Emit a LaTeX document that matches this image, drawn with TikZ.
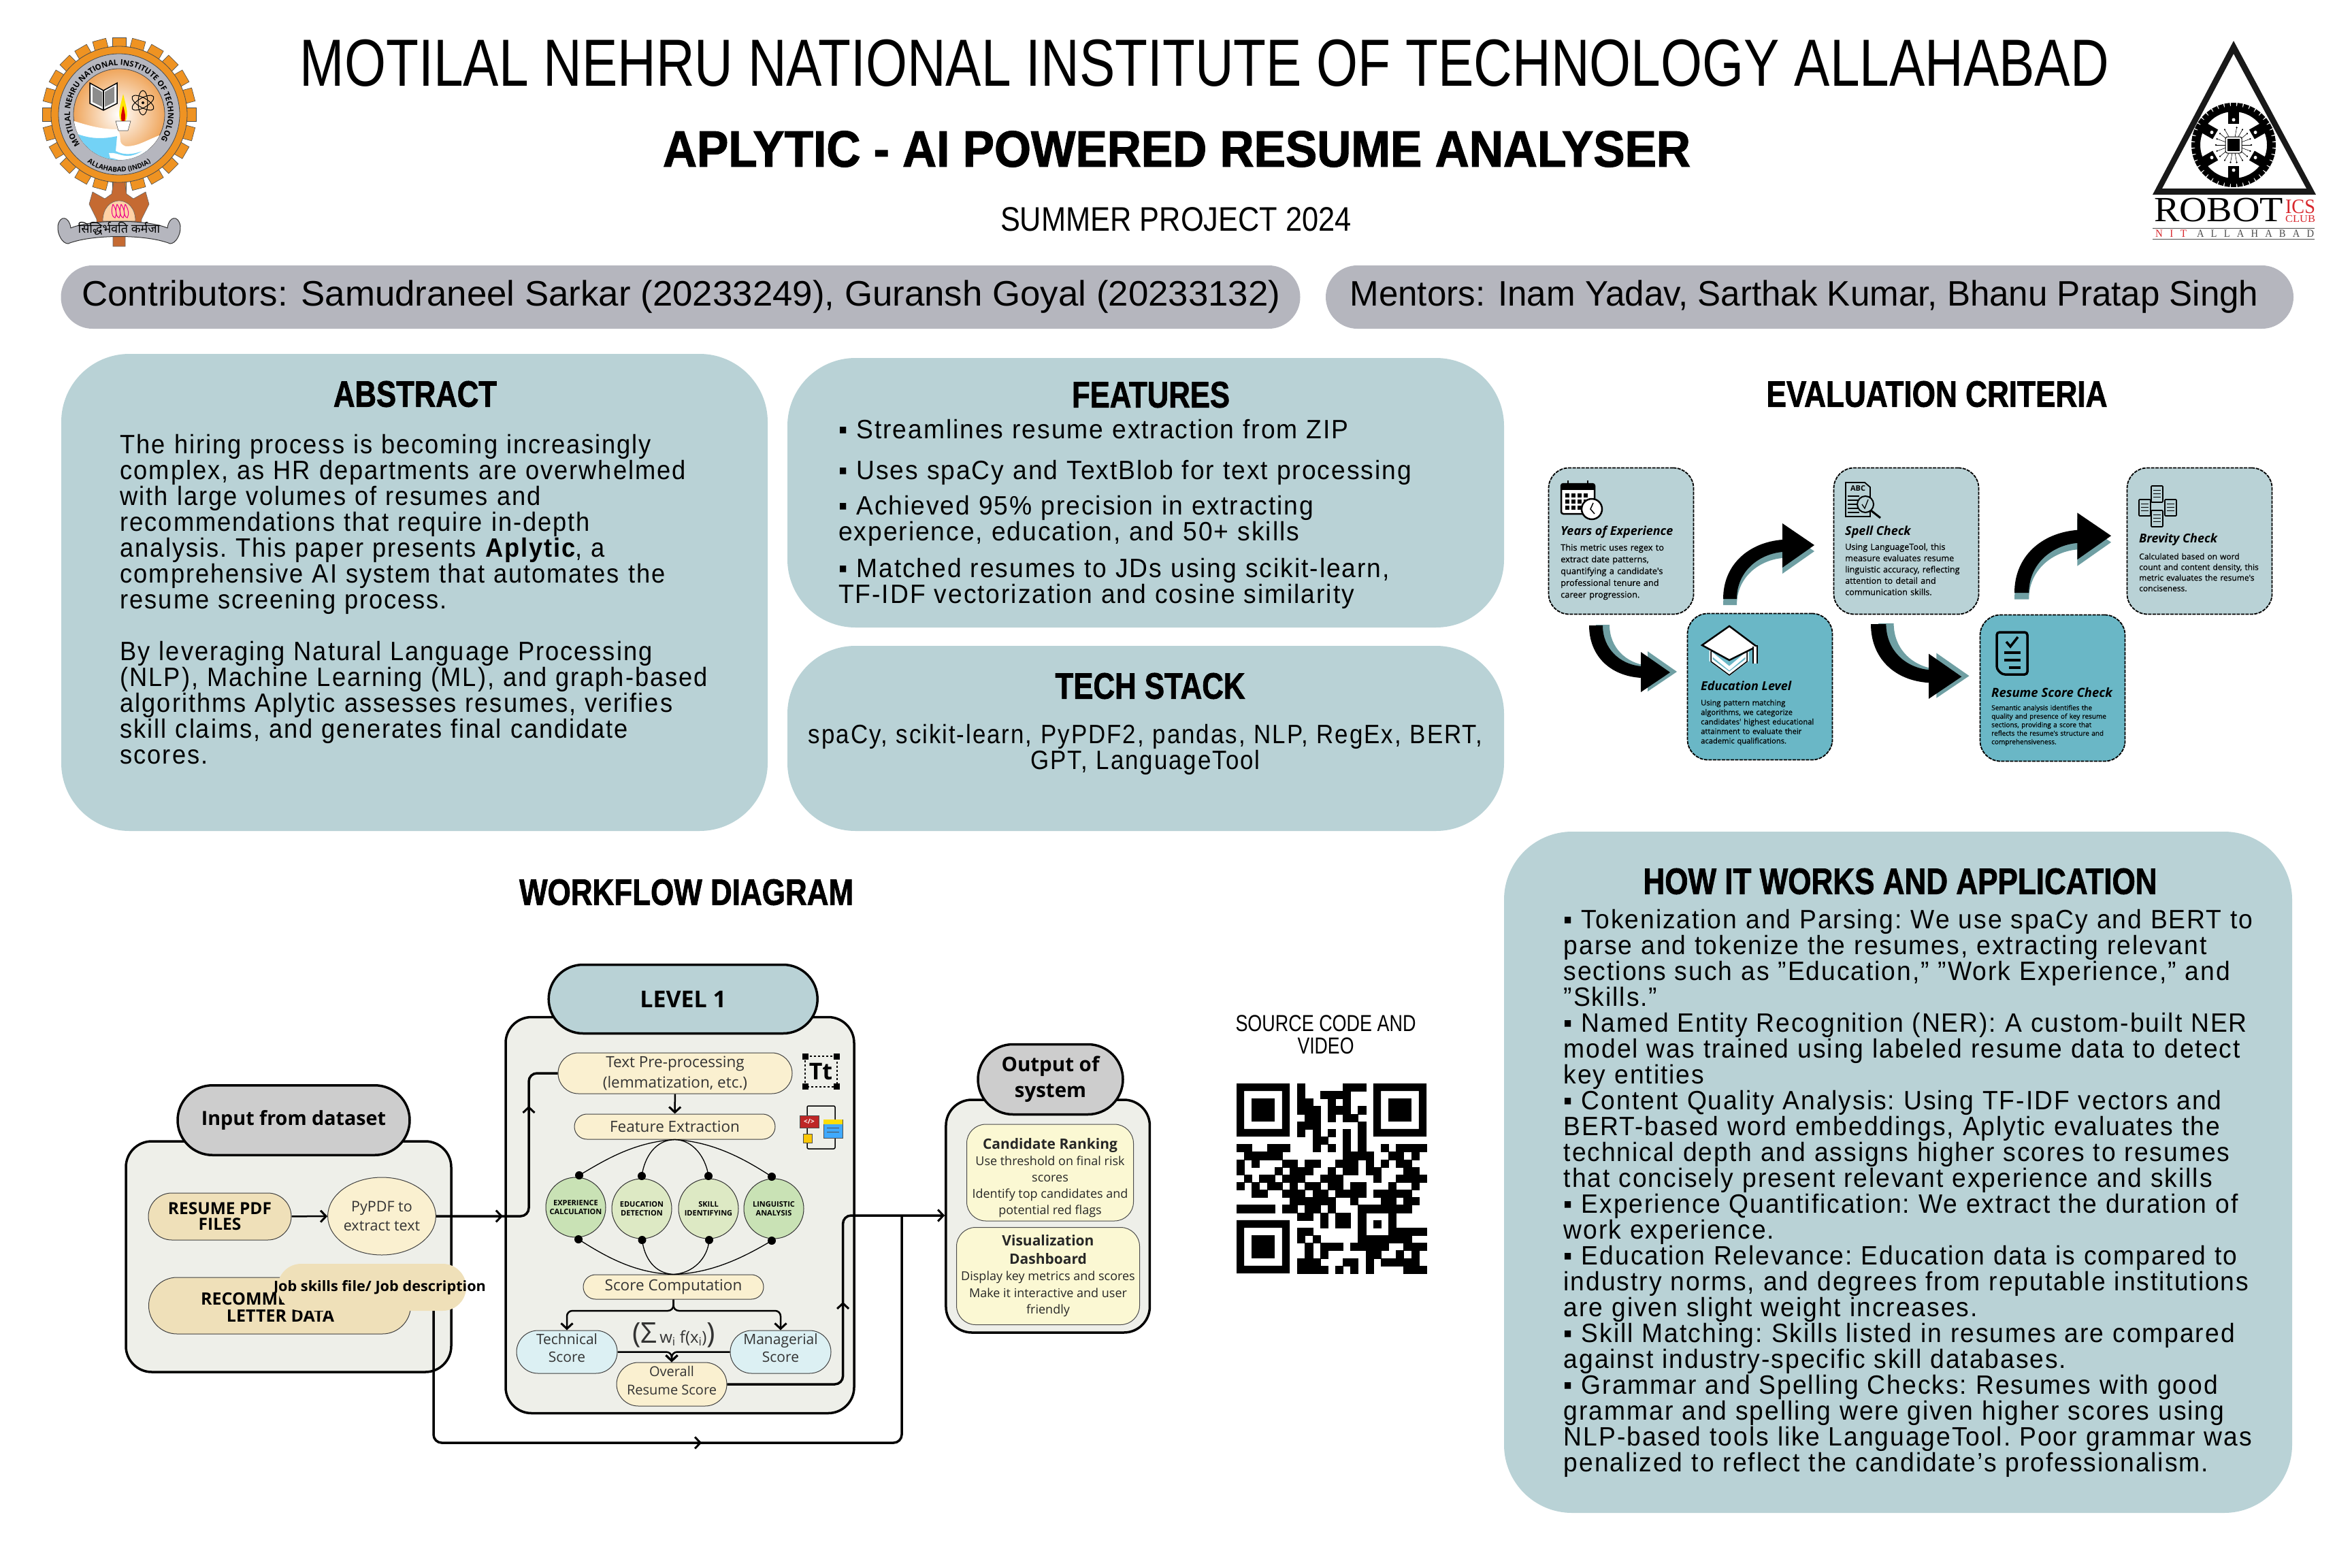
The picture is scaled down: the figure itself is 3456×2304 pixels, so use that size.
\documentclass[tikz,border=0pt]{standalone}
\usepackage{fontspec}
\usepackage{graphicx}
\usetikzlibrary{arrows.meta,shapes.misc,shapes.geometric,decorations.markings,decorations.text}
\newfontfamily\titlefont{Liberation Sans}
\newfontfamily\heavyfont[BoldFeatures={FakeBold=1.6}]{Liberation Sans}
\newfontfamily\bodyfont[FakeStretch=.93,LetterSpace=5]{Liberation Sans}
\newfontfamily\bodywide[FakeStretch=.955,LetterSpace=5]{Liberation Sans}
\newfontfamily\bodyslim[FakeStretch=.895,LetterSpace=5]{Liberation Sans}
\newfontfamily\wffont{Open Sans}
\newfontfamily\critfont[FakeBold=.5]{Open Sans}
\newfontfamily\serifmark{Liberation Serif}
\newfontfamily\hindifont[Script=Devanagari]{Noto Sans}
\newcommand{\fitw}[2]{\resizebox{#1}{\height}{#2}}
\newcommand{\wfs}[2]{\wffont\fontsize{#1}{#2}\selectfont\lineskiplimit=-100pt }
\newcommand{\crs}[2]{\critfont\fontsize{#1}{#2}\selectfont\lineskiplimit=-100pt }
\newcommand{\bds}[1]{#1\fontsize{39}{38}\selectfont\lineskiplimit=-100pt\frenchspacing }
\definecolor{panelblue}{HTML}{B9D2D6}
\definecolor{greybar}{HTML}{B5B6BE}
\definecolor{greycap}{HTML}{CDCDCD}
\definecolor{beige}{HTML}{EFE0B9}
\definecolor{cream}{HTML}{FAF0D0}
\definecolor{paleback}{HTML}{EEEFE9}
\definecolor{greenone}{HTML}{C9E2B5}
\definecolor{greentwo}{HTML}{DDE9C4}
\definecolor{iceblue}{HTML}{DCF0F3}
\definecolor{lemon}{HTML}{FBF8D3}
\definecolor{tealbox}{HTML}{6AB7C6}
\definecolor{arrowshade}{HTML}{6F9FA3}
\definecolor{nitorange}{HTML}{EF9322}
\definecolor{nitbrown}{HTML}{C56A32}
\definecolor{robotred}{HTML}{D8272D}
\tikzset{
  panel/.style={rectangle,fill=panelblue,rounded corners=100pt,inner sep=0pt},
  greybarbox/.style={rounded rectangle,fill=greybar,inner sep=0pt},
  headtext/.style={inner sep=0pt,font=\heavyfont\fontsize{54}{54}\selectfont\bfseries},
  bodytext/.style={anchor=base west,inner sep=0pt,align=left,font=\bds{\bodyfont}},
  backbox/.style={rectangle,draw=black,line width=3.5pt,fill=paleback,rounded corners=38pt,inner sep=0pt},
  pill/.style={rounded rectangle,draw=black!75,line width=1pt,inner sep=0pt,align=center},
  softpill/.style={pill,text=black!80},
  capsule/.style={rounded rectangle,draw=black,line width=3.5pt,inner sep=0pt,align=center},
  critbox/.style={rectangle,draw=black,dashed,dash pattern=on 5pt off 1.5pt,line width=1.8pt,rounded corners=30pt,inner sep=0pt,minimum width=213pt,minimum height=215pt},
  crittitle/.style={anchor=base west,inner sep=0pt,font=\wfs{18}{20}\bfseries\itshape},
  crittext/.style={anchor=base west,inner sep=0pt,align=left,text width=200pt},
  flow/.style={draw=black,line width=3.5pt,rounded corners=12pt},
  thinflow/.style={draw=black,line width=2.5pt,rounded corners=8pt},
  midtip/.style={postaction={decorate,decoration={markings,mark=at position #1 with {\arrow{Straight Barb[length=8pt,width=17pt,line width=3pt]}}}}},
  endtip/.style={-{Straight Barb[length=8pt,width=17pt,line width=3pt]}},
  dotmark/.style={circle,fill=black,inner sep=0pt,minimum size=12pt},
  scorecircle/.style={circle,draw=black!80,line width=1pt,minimum size=88pt,inner sep=0pt,align=center,font=\wfs{11}{13}\bfseries},
  linkcurve/.style={draw=black,line width=1.3pt},
  bentup/.pic={
    \fill[arrowshade,shift={(0,9)}] (0,0) .. controls (0,-51) and (38,-83) .. (87,-87) -- (87,-111) -- (134,-79) -- (87,-46) -- (87,-69) .. controls (53,-66) and (20,-41) .. (20,0) -- cycle;
    \fill[black] (0,0) .. controls (0,-51) and (38,-83) .. (87,-87) -- (87,-111) -- (134,-79) -- (87,-46) -- (87,-69) .. controls (53,-66) and (20,-41) .. (20,0) -- cycle;
  },
  bentdown/.pic={
    \fill[arrowshade,shift={(10,-1)}] (0,0) .. controls (0,44) and (30,74) .. (76,77) -- (76,98) -- (119,69) -- (76,39) -- (76,60) .. controls (45,57) and (20,34) .. (20,0) -- cycle;
    \fill[black] (0,0) .. controls (0,44) and (30,74) .. (76,77) -- (76,98) -- (119,69) -- (76,39) -- (76,60) .. controls (45,57) and (20,34) .. (20,0) -- cycle;
  }
}
\begin{document}
\begin{tikzpicture}[x=1pt,y=-1pt]
  \useasboundingbox (0,0) rectangle (3456,2304);
  \fill[white] (0,0) rectangle (3456,2304);

  \foreach \a in {0,15,...,345} {
    \fill[nitorange,draw=black!70,line width=.6pt,rotate around={\a:(175,168)}] (165,55) rectangle (185,76);
  }
  \fill[nitbrown,draw=black!60,line width=.6pt] (168,262) -- (182,262) -- (186,285) -- (196,292) -- (214,282) -- (219,300) -- (208,322) -- (207,345) -- (184,345) -- (184,362) -- (166,362) -- (166,345) -- (143,345) -- (142,322) -- (131,300) -- (136,282) -- (154,292) -- (164,285) -- cycle;
  \fill[orange!35!white,draw=black!60,line width=.6pt] (151,325) .. controls (151,285) and (199,285) .. (199,325) -- cycle;
  \fill[nitorange,draw=black!70,line width=.8pt] (175,168) circle[radius=100pt];
  \fill[greybar,draw=black!70,line width=.8pt] (175,168) circle[radius=89pt];
  \shade[inner color=white,outer color=orange!65!brown!70,draw=black!70,line width=.8pt] (175,168) circle[radius=67pt];
  \begin{scope}
    \clip (175,168) circle[radius=67pt];
    \fill[white] (100,175) .. controls (130,185) and (150,190) .. (172,190) .. controls (182,200) and (170,210) .. (185,215) .. controls (205,215) and (215,205) .. (245,195) -- (245,250) -- (100,250) -- cycle;
    \fill[cyan!55] (100,190) .. controls (125,205) and (150,205) .. (172,200) -- (170,222) .. controls (195,235) and (215,215) .. (240,215) -- (240,250) -- (100,250) -- cycle;
    \fill[white] (160,225) .. controls (175,222) and (185,240) .. (215,218) -- (225,222) .. controls (190,250) and (175,232) .. (162,232) -- cycle;
  \end{scope}
  \fill[white,draw=black,line width=1.5pt] (132,122) -- (152,133) -- (172,122) -- (172,152) -- (152,162) -- (132,152) -- cycle;
  \draw[black,line width=1.5pt] (152,133) -- (152,162);
  \fill[black!45] (136,127) -- (150,135) -- (150,157) -- (136,150) -- cycle (168,127) -- (154,135) -- (154,157) -- (168,150) -- cycle;
  \foreach \a in {0,60,120} {
    \draw[black,line width=1pt,rotate around={\a:(210,151)}] (210,151) ellipse[x radius=7pt,y radius=18pt];
  }
  \fill[black] (210,151) circle[radius=2pt];
  \fill[yellow!90!orange] (181,138) .. controls (186,160) and (191,170) .. (181,184) .. controls (171,170) and (176,160) .. (181,138) -- cycle;
  \fill[red!85!black] (181,155) .. controls (184,168) and (186,174) .. (181,182) .. controls (176,174) and (178,168) .. (181,155) -- cycle;
  \fill[white,draw=black!70,line width=.6pt] (170,178) -- (192,178) -- (188,192) -- (174,192) -- cycle;
  \path[decorate,decoration={text along path,text align=center,text={|\wffont\fontsize{11.5}{12}\selectfont\bfseries|MOTILAL NEHRU NATIONAL INSTITUTE OF TECHNOLOGY}}] plot[domain=214:-34,samples=60] ([shift={(175,168)}]\x:72pt);
  \path[decorate,decoration={text along path,text align=center,text={|\wffont\fontsize{10}{11}\selectfont\bfseries|ALLAHABAD (INDIA)}}] plot[domain=232:308,samples=30] ([shift={(175,168)}]\x:85pt);
  \foreach \l in {166,172,178,184} {
    \draw[magenta,line width=1pt] (\l,300) .. controls (\l-4,312) and (\l,320) .. (\l+3,320) .. controls (\l+6,315) and (\l+5,308) .. (\l,300);
  }
  \fill[greybar,draw=black!80,line width=1pt] (104,335) .. controls (135,322) and (215,322) .. (246,335) .. controls (248,318) and (262,315) .. (265,332) .. controls (266,345) and (258,358) .. (250,358) .. controls (215,344) and (135,344) .. (100,358) .. controls (92,358) and (84,345) .. (85,332) .. controls (88,315) and (102,318) .. (104,335) -- cycle;
  \draw (175,336) node[inner sep=0pt,font=\hindifont\fontsize{18}{18}\selectfont] (nitmotto){सिद्धिर्भवति कर्मजा};

  \fill[black!90,even odd rule] (3282,60) -- (3403,286) -- (3163,286) -- cycle (3282,79) -- (3389,277) -- (3177,277) -- cycle;
  \foreach \a in {0,9,...,351} {
    \fill[black,rotate around={\a:(3282,213)}] (3278,151) rectangle (3286,160);
  }
  \fill[black,even odd rule] (3282,213) circle[radius=57pt] (3282,213) circle[radius=49pt];
  \foreach \a in {0,60,...,300} {
    \fill[black,rotate around={\a:(3282,213)}] (3274,160) rectangle (3290,182);
    \fill[white,rotate around={\a:(3282,213)}] (3282,176) circle[radius=2.5pt];
  }
  \foreach \a in {30,50,...,350} {
    \draw[black,line width=.6pt,rotate around={\a:(3282,213)}] (3282,213) -- (3282,187);
    \fill[black,rotate around={\a:(3282,213)}] (3282,187) circle[radius=1.3pt];
  }
  \fill[white,draw=black,line width=1pt,rounded corners=3pt] (3270,201) rectangle (3294,225);
  \fill[black] (3273,204) rectangle (3291,222);
  \draw (3260,309) node[inner sep=0pt,font=\serifmark\fontsize{52}{52}\selectfont] (robotword){\fitw{190pt}{ROBOT}}
        (3380,304) node[inner sep=0pt,text=robotred,font=\serifmark\fontsize{30}{30}\selectfont] (icsword){\fitw{44pt}{ICS}}
        (3380,322) node[inner sep=0pt,text=robotred,font=\serifmark\fontsize{15}{15}\selectfont] (clubword){\fitw{44pt}{CLUB}}
        (3190,343) node[inner sep=0pt,text=robotred,font=\serifmark\fontsize{16}{16}\selectfont] (nitword){\fitw{46pt}{\addfontfeature{LetterSpace=70}NIT}}
        (3314,343) node[inner sep=0pt,text=black!70,font=\serifmark\fontsize{16}{16}\selectfont] (allahabadword){\fitw{172pt}{\addfontfeature{LetterSpace=70}ALLAHABAD}};
  \draw[black!70,line width=1pt] (3163,335) -- (3401,335) (3163,351) -- (3401,351);

  \draw (1770,93) node[inner sep=0pt,font=\titlefont\fontsize{98}{98}\selectfont] (title){\fitw{2658pt}{MOTILAL NEHRU NATIONAL INSTITUTE OF TECHNOLOGY ALLAHABAD}}
        (1729,219) node[inner sep=0pt,font=\heavyfont\fontsize{75}{75}\selectfont\bfseries] (subtitle){\fitw{1510pt}{APLYTIC - AI POWERED RESUME ANALYSER}}
        (1728,322) node[inner sep=0pt,font=\titlefont\fontsize{50}{50}\selectfont] (project){\fitw{516pt}{SUMMER PROJECT 2024}}
        (1000,436.5) node[greybarbox,minimum width=1821pt,minimum height=93pt] (contributors){}
        (2659,436.5) node[greybarbox,minimum width=1422pt,minimum height=93pt] (mentors){}
        (1001,436) node[inner sep=0pt,font=\titlefont\fontsize{52}{52}\selectfont] (contributorstext){\fitw{1761pt}{Contributors: Samudraneel Sarkar (20233249), Guransh Goyal (20233132)}}
        (2651,436) node[inner sep=0pt,font=\titlefont\fontsize{52}{52}\selectfont] (mentorstext){\fitw{1335pt}{Mentors: Inam Yadav, Sarthak Kumar, Bhanu Pratap Singh}};

  \draw (609,870.5) node[panel,minimum width=1038pt,minimum height=701pt] (abstract){}
        (1683.5,724) node[panel,minimum width=1053pt,minimum height=396pt] (features){}
        (1683.5,1085) node[panel,minimum width=1053pt,minimum height=272pt] (techstack){}
        (2789,1722.5) node[panel,minimum width=1158pt,minimum height=1001pt] (howitworks){};
  \draw (610,579) node[headtext] (abstracthead){\fitw{240pt}{ABSTRACT}}
        (1691,580) node[headtext] (featureshead){\fitw{232pt}{FEATURES}}
        (1690,1008) node[headtext] (techstackhead){\fitw{279pt}{TECH STACK}}
        (2846,579) node[headtext] (criteriahead){\fitw{501pt}{EVALUATION CRITERIA}}
        (2792,1295) node[headtext] (howhead){\fitw{755pt}{HOW IT WORKS AND APPLICATION}}
        (1008.6,1311) node[headtext] (workflowhead){\fitw{491pt}{WORKFLOW DIAGRAM}};

  \draw (176.5,666) node[bodytext,text width=940pt] (abstractone){The hiring process is becoming increasingly\\complex, as HR departments are overwhelmed\\with large volumes of resumes and\\recommendations that require in-depth\\analysis. This paper presents {\bfseries Aplytic}, a\\comprehensive AI system that automates the\\resume screening process.}
        (176.5,970) node[bodytext,text width=940pt] (abstracttwo){By leveraging Natural Language Processing\\(NLP), Machine Learning (ML), and graph-based\\algorithms Aplytic assesses resumes, verifies\\skill claims, and generates final candidate\\scores.}
        (1232,644) node[bodytext,text width=950pt,font=\bds{\bodywide}] (featureone){▪ Streamlines resume extraction from ZIP}
        (1232,704) node[bodytext,text width=950pt,font=\bds{\bodywide}] (featuretwo){▪ Uses spaCy and TextBlob for text processing}
        (1232,756) node[bodytext,text width=950pt,font=\bds{\bodywide}] (featurethree){▪ Achieved 95\% precision in extracting\\experience, education, and 50+ skills}
        (1232,848) node[bodytext,text width=950pt,font=\bds{\bodywide}] (featurefour){▪ Matched resumes to JDs using scikit-learn,\\TF-IDF vectorization and cosine similarity}
        (1683,1092) node[bodytext,anchor=base,align=center,text width=1050pt,font=\bds{\bodyslim}] (techlist){spaCy, scikit-learn, PyPDF2, pandas, NLP, RegEx, BERT,\\GPT, LanguageTool}
        (2297.5,1364) node[bodytext,text width=1060pt,font=\bds{\bodywide}] (howlist){▪ Tokenization and Parsing: We use spaCy and BERT to\\parse and tokenize the resumes, extracting relevant\\sections such as ”Education,” ”Work Experience,” and\\”Skills.”\\▪ Named Entity Recognition (NER): A custom-built NER\\model was trained using labeled resume data to detect\\key entities\\▪ Content Quality Analysis: Using TF-IDF vectors and\\BERT-based word embeddings, Aplytic evaluates the\\technical depth and assigns higher scores to resumes\\that concisely present relevant experience and skills\\▪ Experience Quantification: We extract the duration of\\work experience.\\▪ Education Relevance: Education data is compared to\\industry norms, and degrees from reputable institutions\\are given slight weight increases.\\▪ Skill Matching: Skills listed in resumes are compared\\against industry-specific skill databases.\\▪ Grammar and Spelling Checks: Resumes with good\\grammar and spelling were given higher scores using\\NLP-based tools like LanguageTool. Poor grammar was\\penalized to reflect the candidate’s professionalism.};

  \draw (2382,795) node[critbox,fill=panelblue] (critexperience){}
        (2586,1009) node[critbox,fill=tealbox] (criteducation){}
        (2801,795) node[critbox,fill=panelblue] (critspell){}
        (3016,1011) node[critbox,fill=tealbox] (critscore){}
        (3232,795) node[critbox,fill=panelblue] (critbrevity){};
  \pic at (2335,919) {bentdown};
  \pic[scale=1.12] at (2749,917) {bentdown};
  \pic at (2532,880) {bentup};
  \pic[scale=1.06] at (2960,871) {bentup};
  \draw (2293,786) node[crittitle] (expertitle){Years of Experience}
        (2293,809) node[crittext,font=\crs{12.8}{17.3}] (expertext){This metric uses regex to\\extract date patterns,\\quantifying a candidate's\\professional tenure and\\career progression.}
        (2711,786) node[crittitle] (spelltitle){Spell Check}
        (2711,808) node[crittext,font=\crs{12.6}{16.6}] (spelltext){Using LanguageTool, this\\measure evaluates resume\\linguistic accuracy, reflecting\\attention to detail and\\communication skills.}
        (3143,797) node[crittitle] (brevitytitle){Brevity Check}
        (3143,822) node[crittext,font=\crs{12}{15.6}] (brevitytext){Calculated based on word\\count and content density, this\\metric evaluates the resume's\\conciseness.}
        (2499,1014) node[crittitle] (edutitle){Education Level}
        (2499,1036.5) node[crittext,font=\crs{11.2}{14}] (edutext){Using pattern matching\\algorithms, we categorize\\candidates' highest educational\\attainment to evaluate their\\academic qualifications.}
        (2926,1024) node[crittitle,font=\wfs{18.5}{20}\bfseries\itshape] (scoretitle){Resume Score Check}
        (2926,1043.5) node[crittext,font=\crs{10}{12.5}] (scoretext){Semantic analysis identifies the\\quality and presence of key resume\\sections, providing a score that\\reflects the resume's structure and\\comprehensiveness.};

  \begin{scope}[shift={(2293,705)}]
    \draw[fill=white,line width=2.5pt,rounded corners=3pt] (1,6) rectangle (50,50);
    \fill[black] (1,6) rectangle (50,15);
    \draw[line width=2pt] (11,1) -- (11,10) (40,1) -- (40,10);
    \foreach \i in {0,1,2,3} \foreach \j in {0,1,2} {\fill[black] (7+\i*9,20+\j*9) rectangle +(6,6);}
    \draw[fill=white,line width=2.5pt] (46,43) circle[radius=15pt];
    \draw[line width=1.5pt] (48,34) -- (44,43) -- (50,50);
  \end{scope}
  \begin{scope}[shift={(2712,709)}]
    \draw[fill=panelblue,line width=1.8pt] (0,0) -- (28,0) -- (36,7) -- (36,50) -- (0,50) -- cycle;
    \draw (18,9) node[inner sep=0pt,font=\wfs{11}{12}\bfseries] (abcmark){ABC};
    \foreach \j in {20,26,32,38,44} {\draw[line width=1.5pt] (3,\j) -- (20,\j);}
    \draw[fill=panelblue,line width=2pt] (29,32) circle[radius=12pt];
    \draw[line width=1.3pt] (24,32) -- (28,38) -- (33,25);
    \draw[line width=3pt] (37,41) -- (51,52);
  \end{scope}
  \begin{scope}[shift={(3143,714)}]
    \foreach \dx/\dy in {18/0,0/20,18/36,38/20} {
      \draw[fill=panelblue,line width=1.6pt,rounded corners=1pt] (\dx,\dy) rectangle +(17,24);
      \draw[line width=1pt] (\dx+3,\dy+6) -- +(11,0) (\dx+3,\dy+11) -- +(11,0) (\dx+3,\dy+16) -- +(11,0);
    }
  \end{scope}
  \begin{scope}[shift={(2499,920)}]
    \fill[tealbox,draw=white,line width=5pt] (15,40) -- (42,62) -- (68,40) -- (68,50) -- (42,70) -- (15,50) -- cycle;
    \draw[black,line width=1.5pt] (15,37) -- (15,52) -- (42,72) -- (68,52) -- (68,37);
    \fill[white,draw=black,line width=2.5pt] (42,0) -- (82,30) -- (42,50) -- (2,28) -- cycle;
    \draw[white,line width=4pt] (80,30) -- (80,55);
    \draw[black,line width=1.2pt] (77,30) -- (77,55) (83,28) -- (83,55);
  \end{scope}
  \begin{scope}[shift={(2932,927)}]
    \draw[line width=3.5pt,rounded corners=4pt] (2,56) -- (2,2) -- (47,2) -- (47,64) -- (10,64) -- cycle;
    \draw[line width=3.5pt] (16,16) -- (22,23) -- (33,9);
    \draw[line width=3.5pt] (13,32) -- (37,32) (13,43) -- (37,43) (20,54) -- (37,54);
  \end{scope}
  \draw (1948,1504) node[inner sep=0pt,font=\titlefont\fontsize{34}{34}\selectfont] (sourcelineone){\fitw{265pt}{SOURCE CODE AND}}
        (1948,1537) node[inner sep=0pt,font=\titlefont\fontsize{34}{34}\selectfont] (sourcelinetwo){\fitw{83pt}{VIDEO}};
  \begin{scope}[shift={(1817,1592)},x=11.16pt,y=-11.16pt]
    \foreach \fx/\fy in {0/0,18/0,0/18} {
      \fill[black,even odd rule] (\fx,\fy) rectangle +(7,7) (\fx+1,\fy+1) rectangle +(5,5);
      \fill[black] (\fx+2,\fy+2) rectangle +(3,3);
    }
    \foreach \r/\cols in {0/{8,14,15,16},1/{8,11,12,13,14},2/{8,9,12,14},3/{8,9,10,12,13,14,16},4/{9,10,12,14,15},5/{8,9,10,16},6/{8,10,12,14,16},7/{10,11,14,16},8/{0,1,4,5,6,10,12,14,16,19,21,22,23,24},9/{1,2,3,4,5,14,15,16,17,20,21,23},10/{0,2,6,7,9,10,13,14,15,17,19,21,22},11/{0,5,7,8,9,12,14,15,17,18,22,23},12/{1,3,4,6,7,8,11,12,13,18,21,22,23,24},13/{0,2,4,5,7,9,10,12,13,15,16,20,23},14/{2,3,6,7,8,10,11,13,14,15,16,18,19,20,21,22},15/{7,8,9,10,11,12,15,19,20,22,23},16/{0,1,2,3,4,6,7,9,10,12,16,17,18,19,20,21,22},17/{8,9,11,13,14,16,20},18/{11,13,14,16,18,20},19/{8,9,16,20,21,22,23,24},20/{8,10,16,17,18,19,20,21,22},21/{9,11,12,13,15,16,17,18,19,22,23,24},22/{9,11,17,18,21,23},23/{8,9,10,14,15,17,19,20,21,22,23},24/{8,9,10,11,13,15,17,22,23,24}} {
      \foreach \c in \cols {\fill[black,draw=black,line width=.2pt] (\c,\r) rectangle +(1,1);}
    }
  \end{scope}

  \draw (424,1846.5) node[backbox,minimum width=478pt,minimum height=339pt] (inputback){}
        (999,1785.5) node[backbox,minimum width=512pt,minimum height=582pt] (levelback){}
        (1539.7,1787) node[backbox,minimum width=299.5pt,minimum height=342pt] (outputback){};
  \draw (431.5,1646) node[capsule,fill=greycap,minimum width=341pt,minimum height=102.5pt,font=\wfs{28.7}{34}\bfseries] (inputcap){Input from dataset}
        (1003.7,1468) node[capsule,fill=panelblue,minimum width=395pt,minimum height=101pt,font=\wfs{34}{40}\bfseries] (levelcap){LEVEL 1}
        (1543.5,1586) node[capsule,fill=greycap,minimum width=213pt,minimum height=103pt,font=\wfs{29.5}{38}\bfseries] (outputcap){Output of\\system}
        (323,1787.5) node[pill,fill=beige,minimum width=210pt,minimum height=69pt,font=\wfs{24.5}{23}\bfseries] (resumefiles){RESUME PDF\\FILES}
        (561,1787) node[ellipse,draw=black!75,line width=1pt,inner sep=0pt,align=center,text=black!80,fill=cream,minimum width=130pt,minimum height=114pt,font=\wfs{21.5}{28}] (pypdf){PyPDF to\\extract text}
        (411,1918.5) node[pill,fill=beige,minimum width=385pt,minimum height=83pt] (recommend){}
        (295,1917) node[anchor=base west,inner sep=0pt,font=\wfs{25}{26}\bfseries] (recommendone){RECOMME}
        (412,1942) node[anchor=base,inner sep=0pt,font=\wfs{25}{26}\bfseries] (recommendtwo){LETTER DATA}
        (992,1577) node[softpill,fill=cream,minimum width=344pt,minimum height=60pt,font=\wfs{22.5}{30}] (preproc){Text Pre-processing\\(lemmatization, etc.)}
        (991.5,1655.5) node[softpill,fill=cream,minimum width=295pt,minimum height=37pt,font=\wfs{22.5}{26}] (featureext){Feature Extraction}
        (846,1774) node[scorecircle,fill=greenone] (experience){EXPERIENCE\\CALCULATION}
        (943,1776) node[scorecircle,fill=greentwo] (education){EDUCATION\\DETECTION}
        (1041,1776) node[scorecircle,fill=greentwo] (skill){SKILL\\IDENTIFYING}
        (1137,1776) node[scorecircle,fill=greenone] (linguistic){LINGUISTIC\\ANALYSIS}
        (851,1727) node[dotmark] (dotaa){}
        (943,1728) node[dotmark] (dotba){}
        (1041,1728) node[dotmark] (dotca){}
        (1134,1729) node[dotmark] (dotda){}
        (850,1821) node[dotmark] (dotab){}
        (943.5,1822) node[dotmark] (dotbb){}
        (1042,1822) node[dotmark] (dotcb){}
        (1134,1823) node[dotmark] (dotdb){}
        (989.5,1891) node[softpill,fill=cream,minimum width=265pt,minimum height=36pt,font=\wfs{22.5}{26}] (scorecomp){Score Computation}
        (833,1986.5) node[softpill,fill=iceblue,minimum width=148pt,minimum height=63pt,font=\wfs{21}{26}] (technical){Technical\\Score\rule[-12pt]{0pt}{1pt}}
        (1147,1986.5) node[softpill,fill=iceblue,minimum width=148pt,minimum height=63pt,font=\wfs{21}{26}] (managerial){Managerial\\Score\rule[-12pt]{0pt}{1pt}}
        (987,2034) node[softpill,fill=cream,minimum width=148pt,minimum height=64pt,font=\wfs{20}{27}] (overall){Overall\\Resume Score\rule[-12pt]{0pt}{1pt}}
        (990,1962) node[inner sep=0pt,text=black!80,font=\wfs{24}{28}] (sumlabel){{\fontsize{42}{42}\selectfont(Σ}\,w\textsubscript{i} f(x\textsubscript{i}){\fontsize{42}{42}\selectfont)}}
        (1543,1723) node[rectangle,draw=black!70,line width=1pt,rounded corners=28pt,fill=lemon,minimum width=245pt,minimum height=142pt,inner sep=0pt,align=center,text=black!85,font=\wfs{18}{24}] (ranking){\rule{0pt}{32pt}{\bfseries\fontsize{21}{24}\selectfont Candidate Ranking}\\Use threshold on final risk\\scores\\Identify top candidates and\\potential red flags}
        (1540,1875) node[rectangle,draw=black!70,line width=1pt,rounded corners=28pt,fill=lemon,minimum width=269pt,minimum height=143pt,inner sep=0pt,align=center,text=black!85,font=\wfs{18}{24.5}] (dashboard){{\bfseries\fontsize{21}{28}\selectfont Visualization}\\[2pt]{\bfseries\fontsize{21}{28}\selectfont Dashboard}\\Display key metrics and scores\\Make it interactive and user\\friendly};

  \begin{scope}[-]
    \draw[thinflow,endtip] (resumefiles) to (pypdf);
    \draw[thinflow,endtip] (preproc) to (featureext);
    \draw[linkcurve] (featureext.south) .. controls (930,1678) and (885,1707) .. (dotaa.center);
    \draw[linkcurve] (featureext.south) .. controls (963,1675) and (947,1700) .. (dotba.center);
    \draw[linkcurve] (featureext.south) .. controls (1018,1675) and (1037,1700) .. (dotca.center);
    \draw[linkcurve] (featureext.south) .. controls (1052,1678) and (1100,1707) .. (dotda.center);
    \draw[linkcurve] (scorecomp.north) .. controls (930,1871) and (885,1843) .. (dotab.center);
    \draw[linkcurve] (scorecomp.north) .. controls (962,1871) and (947,1849) .. (dotbb.center);
    \draw[linkcurve] (scorecomp.north) .. controls (1018,1871) and (1040,1849) .. (dotcb.center);
    \draw[linkcurve] (scorecomp.north) .. controls (1050,1871) and (1100,1843) .. (dotdb.center);
    \draw[thinflow,endtip] (scorecomp.south) -- (989.5,1926) -- (833,1926) -- (technical.north);
    \draw[thinflow,endtip] (scorecomp.south) -- (989.5,1926) -- (1147,1926) -- (managerial.north);
    \draw[thinflow,endtip] (technical.east) -- (overall.north |- technical.east) -- (overall.north);
    \draw[thinflow,endtip] (managerial.west) -- (overall.north |- managerial.west) -- (overall.north);
    \draw[flow,midtip=98pt,midtip=293pt] (pypdf.east) -- (777,1787) -- (777,1577) -- (preproc.west);
    \draw[flow,endtip,midtip=286pt] (overall.east) -- (1238.6,2034) -- (1238.6,1786) -- (outputback.west |- 1238.6,1786);
    \coordinate (jobdrop) at (637,1920);
    \coordinate (outputjoin) at (1325,1786);
    \draw[flow,midtip=589pt] (jobdrop) -- (637,2120) -- (1325,2120) -- (outputjoin);
  \end{scope}
  \draw (546.5,1891.5) node[rounded rectangle,fill=beige,inner sep=0pt,minimum width=277pt,minimum height=69pt] (jobpill){}
        (558,1891.5) node[inner sep=0pt,font=\wfs{21}{24}\bfseries] (jobtext){\fitw{312pt}{Job skills file/ Job description}};

  \begin{scope}[shift={(1179,1548)}]
    \draw[line width=1.5pt,dashed] (4,4) rectangle (51,49);
    \foreach \cx/\cy in {0/0,46/0,0/44,46/44} {\fill[black] (\cx,\cy) rectangle +(9,9);}
    \draw (27,27) node[inner sep=0pt,font=\wfs{34}{36}\bfseries] (ttmark){Tt};
  \end{scope}
  \begin{scope}[shift={(1175,1625)}]
    \draw[fill=paleback,line width=1.5pt,rounded corners=2pt] (11,0) rectangle (52,63);
    \fill[red!70!black!85,draw=black!70,line width=.8pt] (0,14) rectangle (28,32);
    \draw (14,23) node[inner sep=0pt,text=white,font=\wfs{10}{10}\bfseries] (codemark){</>};
    \fill[blue!45!cyan!75,draw=black!70,line width=.8pt] (35,20) rectangle (63,47);
    \fill[yellow!80!orange] (35,20) rectangle (63,27);
    \draw[black!70,line width=1pt] (40,32) -- (58,32) (40,38) -- (58,38);
    \fill[yellow!60!orange,draw=black!70,line width=.8pt] (5,41) rectangle (18,54);
  \end{scope}
\end{tikzpicture}
\end{document}
